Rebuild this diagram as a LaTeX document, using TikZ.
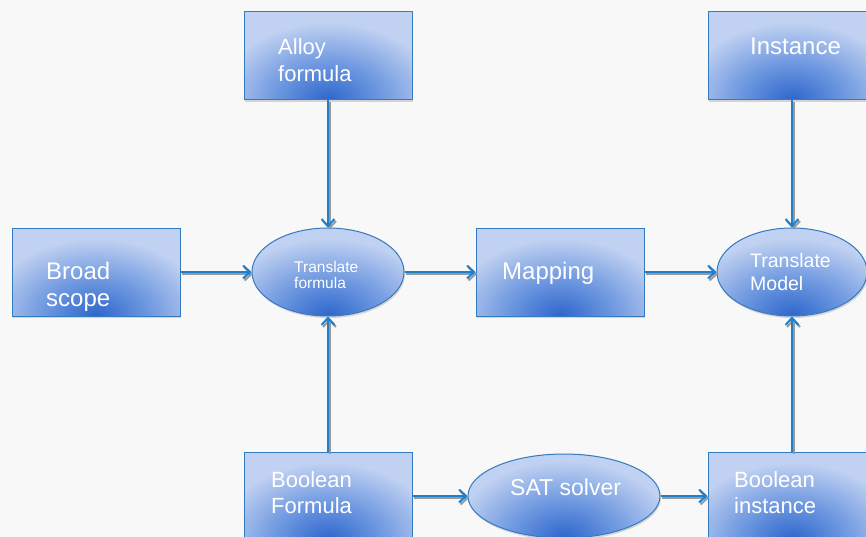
\documentclass[tikz,border=0pt]{standalone}
\usepackage{fontspec}
\setmainfont{Liberation Sans}
\usepackage{tikz}
\usetikzlibrary{positioning,shapes,arrows.meta,calc,shadows}

\definecolor{boxfill}{RGB}{192,209,241}
\definecolor{boxmid}{RGB}{110,152,224}
\definecolor{boxdark}{RGB}{46,102,204}
\definecolor{boxline}{RGB}{52,122,192}
\definecolor{flowline}{RGB}{28,128,206}
\definecolor{paper}{RGB}{248,248,248}

\pgfdeclareradialshading{glow}{\pgfpoint{0bp}{0bp}}{%
  color(0bp)=(boxdark); color(10bp)=(boxmid); color(21bp)=(boxfill);
  color(25bp)=(boxfill); color(50bp)=(boxfill)}

\tikzset{
  box/.style={draw=boxline, line width=1pt, fill=boxfill,
    minimum width=168pt, minimum height=88pt, inner sep=0pt,
    drop shadow={shadow xshift=1pt, shadow yshift=-2pt, opacity=.3},
    path picture={\shade[shading=glow]
      (path picture bounding box.south) ellipse (132pt and 92pt);}},
  oval/.style={box, ellipse, minimum width=152pt, minimum height=88pt},
  txt/.style={text=white, align=left, anchor=base west, inner sep=0pt,
    font=\fontsize{24}{27}\selectfont},
  flow/.style={draw=flowline, line width=2pt,
    -{Straight Barb[length=7pt,width=13pt]},
    preaction={draw=black!40, line width=2pt,
      -{Straight Barb[length=7pt,width=13pt]},
      transform canvas={xshift=1.5pt,yshift=-2pt}}}
}

\begin{document}
\begin{tikzpicture}[x=1pt,y=-1pt]
    \fill[paper] (0,0) rectangle (866,537);
    \useasboundingbox (0,0) rectangle (866,537);

    % shapes
    \node[box] (bs) at (96,272) {};
    \node[box] (af) at (328,56) {};
    \node[box] (inst) at (792,56) {};
    \node[box] (map) at (560,272) {};
    \node[box] (bf) at (328,496) {};
    \node[box] (bi) at (792,496) {};
    \node[oval] (tf) at (328,272) {};
    \node[oval, minimum width=150pt] (tm) at (792,272) {};
    \node[oval, minimum width=192pt, minimum height=84pt] (sat) at (564,496) {};

    % labels (base = last line)
    \node[txt] (bs-t) at (46,306) {Broad\\scope};
    \node[txt, font=\fontsize{22}{27}\selectfont] (af-t) at (278,82) {Alloy\\formula};
    \node[txt] (inst-t) at (750,55) {Instance};
    \node[txt] (map-t) at (502,279) {Mapping};
    \node[txt, font=\fontsize{22}{26}\selectfont] (bf-t) at (271,513) {Boolean\\Formula};
    \node[txt, font=\fontsize{22}{26}\selectfont] (bi-t) at (734,513) {Boolean\\instance};
    \node[txt, font=\fontsize{15.5}{16}\selectfont] (tf-t) at (294,288) {Translate\\formula};
    \node[txt, font=\fontsize{19.5}{23}\selectfont] (tm-t) at (750,290) {Translate\\Model};
    \node[txt, font=\fontsize{23}{27}\selectfont] (sat-t) at (510,495) {SAT solver};

    % connectors
    \draw[flow] (af) -- (tf);
    \draw[flow] (bs) -- (tf);
    \draw[flow] (bf) -- (tf);
    \draw[flow] (tf) -- (map);
    \draw[flow] (map) -- (tm);
    \draw[flow] (inst) -- (tm);
    \draw[flow] (bi) -- (tm);
    \draw[flow] (bf) -- (sat);
    \draw[flow] (sat) -- (bi);
\end{tikzpicture}
\end{document}
